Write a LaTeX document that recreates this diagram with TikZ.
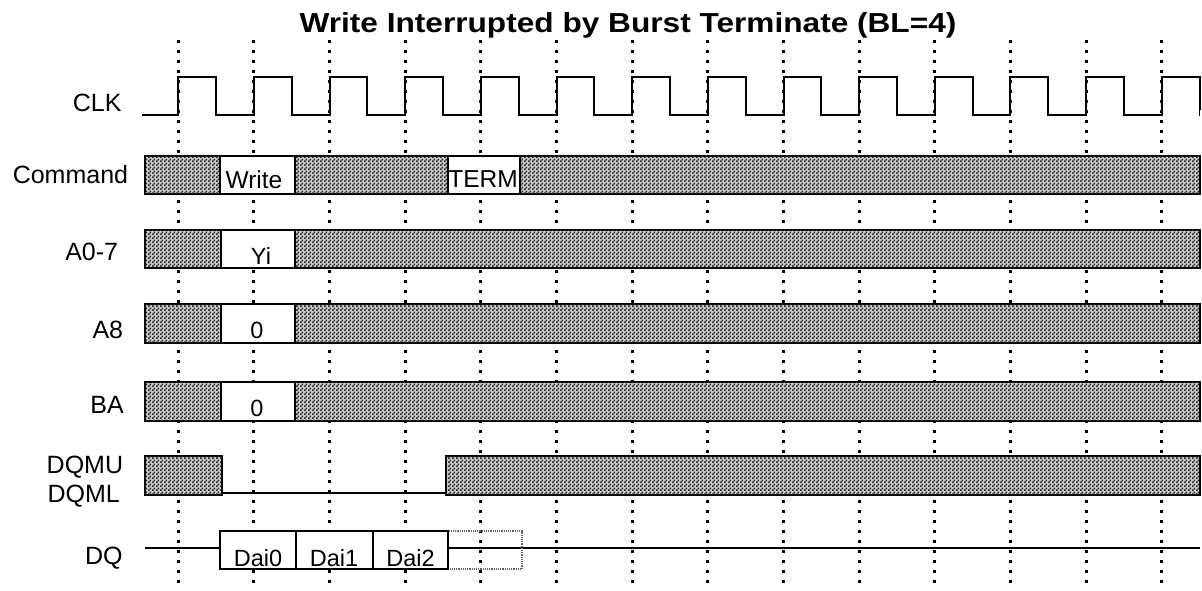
\documentclass[tikz,border=0pt]{standalone}
\usepackage{fontspec}
\usetikzlibrary{patterns}
\setmainfont{Liberation Sans}
\newfontfamily\titlefont[FakeStretch=1.15]{Liberation Sans}
\pgfdeclarepatternformonly{finechecker}{\pgfpointorigin}{\pgfqpoint{4pt}{4pt}}{\pgfqpoint{4pt}{4pt}}{%
  \pgfpathrectangle{\pgfpointorigin}{\pgfqpoint{2pt}{2pt}}%
  \pgfpathrectangle{\pgfqpoint{2pt}{2pt}}{\pgfqpoint{2pt}{2pt}}%
  \pgfusepath{fill}}
\begin{document}
\begin{tikzpicture}[x=1pt,y=-1pt,
  sig/.style={line width=2pt,line join=miter},
  grid/.style={line width=3pt,dash pattern=on 3pt off 7pt},
  busbox/.style={draw=black,line width=2pt,fill=black!20,postaction={pattern=finechecker,pattern color=black!85}},
  valbox/.style={draw=black,line width=2pt,fill=white},
  ghost/.style={draw=black!60,line width=1.2pt,densely dotted},
  lab/.style={anchor=base east,inner sep=0pt,font=\fontsize{25}{30}\selectfont},
  val/.style={anchor=base,inner sep=0pt,font=\fontsize{23.5}{28}\selectfont}]
\useasboundingbox (0,0) rectangle (1202,590);
% title
\node[anchor=base,inner sep=0pt,font=\titlefont\bfseries\fontsize{27.5}{32}\selectfont] (title) at (628,32.3) {Write Interrupted by Burst Terminate (BL=4)};
% dotted clock-edge guides
\foreach \k in {0,...,13} {
  \coordinate (gt\k) at ({178.3+75.65*\k},40);
  \coordinate (gb\k) at ({178.3+75.65*\k},588);
  \draw[grid] (gt\k) -- (gb\k);
}
% clock
\coordinate (clk0) at (142,115);
\draw[sig] (clk0) -- (178.3,115)
  \foreach \k in {0,...,13} { -- ({178.3+75.65*\k},77) -- ({178.3+75.65*\k+37.8},77) -- ({178.3+75.65*\k+37.8},115) -- ({178.3+75.65*(\k+1)},115) };
\fill[white] (1199.6,110) rectangle (1202,120);
% labels
\node[lab] (lclk) at (121.7,111.7) {CLK};
\node[lab] (lcmd) at (128.3,183.3) {Command};
\node[lab] (la07) at (118.3,260) {A0-7};
\node[lab] (la8) at (123.3,338.3) {A8};
\node[lab] (lba) at (124,413.3) {BA};
\node[lab] (ldqmu) at (123.3,473.3) {DQMU};
\node[lab] (ldqml) at (120,502.3) {DQML};
\node[lab] (ldq) at (122.7,564) {DQ};
% Command
\draw[busbox] (145,155.5) rectangle (1200,194);
\draw[valbox] (220,155.5) rectangle (295,194);
\draw[valbox] (448,155.5) rectangle (520,194);
\node[val,font=\fontsize{24.5}{28}\selectfont] (vwrite) at (254,188.5) {Write};
\node[val,font=\fontsize{24.5}{28}\selectfont] (vterm) at (483,187.7) {TERM};
% A0-7
\draw[busbox] (145,229.5) rectangle (1200,268);
\draw[valbox] (221,229.5) rectangle (295,268);
\node[val] (vyi) at (261,264.3) {Yi};
% A8
\draw[busbox] (145,304) rectangle (1200,342.5);
\draw[valbox] (221,304) rectangle (295,342.5);
\node[val] (va8) at (257,338.3) {0};
% BA
\draw[busbox] (145,382) rectangle (1200,420.5);
\draw[valbox] (221,382) rectangle (295,420.5);
\node[val] (vba) at (257,416.5) {0};
% DQMU/DQML
\draw[busbox] (145,456) rectangle (222,495);
\coordinate (mlow0) at (222,492.5);
\coordinate (mlow1) at (446,492.5);
\draw[line width=2pt] (mlow0) -- (mlow1);
\draw[busbox] (446,456) rectangle (1200,495);
% DQ
\coordinate (dq0) at (145,548);
\coordinate (dq1) at (220,548);
\coordinate (dq2) at (448,548);
\coordinate (dq3) at (1200,548);
\draw[line width=2pt] (dq0) -- (dq1);
\draw[line width=2pt] (dq2) -- (dq3);
\draw[ghost] (448,531) rectangle (522,569);
\draw[valbox] (220,531) rectangle (296,569);
\draw[valbox] (296,531) rectangle (373,569);
\draw[valbox] (373,531) rectangle (448,569);
\node[val] (d0) at (258,566.7) {Dai0};
\node[val] (d1) at (334,566.7) {Dai1};
\node[val] (d2) at (410.5,566.7) {Dai2};
\end{tikzpicture}
\end{document}
